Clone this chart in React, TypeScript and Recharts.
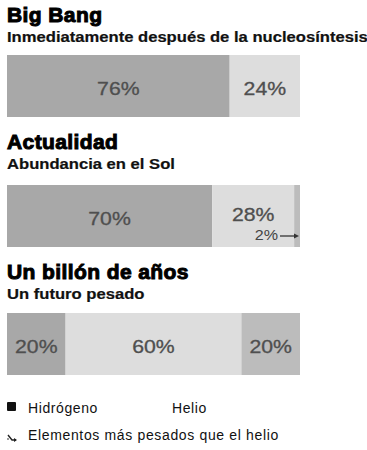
import React from "react";
import { BarChart, Bar, XAxis, YAxis, LabelList } from "recharts";

const stages = ["Big Bang", "Actualidad", "Un billón de años"];
const subtitles = [
  "Inmediatamente después de la nucleosíntesis",
  "Abundancia en el Sol",
  "Un futuro pesado",
];
const hydrogen = [76, 70, 20];
const helium = [24, 28, 60];
const heavier = [0, 2, 20];
const seriesNames = ["Hidrógeno", "Helio", "Elementos más pesados que el helio"];

const FONT = "'Liberation Sans', Arial, Helvetica, sans-serif";
const COLORS = { hydrogen: "#a8a8a8", helium: "#dddddd", heavier: "#bcbcbc" };

const titleTops = [0, 127, 257];
const barTops = [55, 185, 313];
const BAR_H = 62;

const makeLabel = (key: string, smallNeighbor: boolean) => (props: any) => {
  const { x, y, width, height, value } = props;
  if (!value) return null;
  const cy = y + height / 2;
  if (value < 5) {
    const right = x + width;
    return (
      <g>
        <text
          transform={`translate(${right - 22},${cy + 24}) scale(1.15,1)`}
          x={0}
          y={0}
          textAnchor="end"
          fontSize={14}
          fill="#444"
          fontFamily={FONT}
        >
          {value}%
        </text>
        <line x1={right - 20} y1={cy + 20} x2={right - 5} y2={cy + 20} stroke="#333" strokeWidth={1.3} />
        <path d={`M${right - 1},${cy + 20} l-5,-2.5 l0,5 z`} fill="#333" />
      </g>
    );
  }
  const dy = key === "helium" && smallNeighbor ? -1 : 3;
  return (
    <text
      transform={`translate(${x + width / 2},${cy + dy}) scale(1.18,1)`}
      x={0}
      y={0}
      textAnchor="middle"
      dominantBaseline="central"
      fontSize={18}
      fill="#4f4f4f"
      stroke="#4f4f4f"
      strokeWidth={0.3}
      fontFamily={FONT}
    >
      {value}%
    </text>
  );
};

export default function App() {
  return (
    <div
      style={{
        position: "absolute",
        left: 0,
        top: 0,
        width: 367,
        height: 450,
        background: "#fff",
        fontFamily: FONT,
        overflow: "hidden",
      }}
    >
      {stages.map((stage, i) => {
        const data = [
          { name: stage, hydrogen: hydrogen[i], helium: helium[i], heavier: heavier[i] },
        ];
        const smallNeighbor = heavier[i] > 0 && heavier[i] < 5;
        return (
          <React.Fragment key={stage}>
            <div
              style={{
                position: "absolute",
                left: 7,
                top: titleTops[i],
                fontSize: 21,
                fontWeight: 900,
                color: "#000",
                lineHeight: "30px",
                whiteSpace: "nowrap",
                letterSpacing: "0.4px",
                WebkitTextStroke: "1px #000",
              }}
            >
              {stage}
            </div>
            <div
              style={{
                position: "absolute",
                left: 7,
                top: titleTops[i] + 28,
                fontSize: 14.5,
                fontWeight: 700,
                color: "#111",
                lineHeight: "18px",
                whiteSpace: "nowrap",
                transform: "scaleX(1.145)",
                transformOrigin: "0 0",
                WebkitTextStroke: "0.2px #111",
              }}
            >
              {subtitles[i]}
            </div>
            <div style={{ position: "absolute", left: 0, top: barTops[i] }}>
              <BarChart
                width={367}
                height={BAR_H}
                data={data}
                layout="vertical"
                margin={{ top: 0, right: 67, bottom: 0, left: 7 }}
                barCategoryGap={0}
              >
                <XAxis type="number" domain={[0, 100]} hide />
                <YAxis type="category" dataKey="name" hide width={0} />
                <Bar dataKey="hydrogen" stackId="a" fill={COLORS.hydrogen} isAnimationActive={false}>
                  <LabelList dataKey="hydrogen" content={makeLabel("hydrogen", smallNeighbor)} />
                </Bar>
                <Bar dataKey="helium" stackId="a" fill={COLORS.helium} isAnimationActive={false}>
                  <LabelList dataKey="helium" content={makeLabel("helium", smallNeighbor)} />
                </Bar>
                <Bar dataKey="heavier" stackId="a" fill={COLORS.heavier} isAnimationActive={false}>
                  <LabelList dataKey="heavier" content={makeLabel("heavier", smallNeighbor)} />
                </Bar>
              </BarChart>
            </div>
          </React.Fragment>
        );
      })}
      <div style={{ position: "absolute", left: 7, top: 402, width: 9, height: 9, background: "#111", borderRadius: 1 }} />
      <div style={{ position: "absolute", left: 28, top: 400, fontSize: 14, color: "#111", lineHeight: "16px", letterSpacing: "0.6px" }}>
        {seriesNames[0]}
      </div>
      <div style={{ position: "absolute", left: 172, top: 400, fontSize: 14, color: "#111", lineHeight: "16px", letterSpacing: "0.6px" }}>
        {seriesNames[1]}
      </div>
      <svg style={{ position: "absolute", left: 6, top: 432 }} width={12} height={12}>
        <path d="M2,3 L6,8 L10,8" stroke="#222" strokeWidth={1.4} fill="none" />
        <path d="M11,8 l-3,-2 l0,4 z" fill="#222" />
        <circle cx={2} cy={7} r={0.8} fill="#222" />
      </svg>
      <div style={{ position: "absolute", left: 28, top: 427, fontSize: 14, color: "#111", lineHeight: "16px", letterSpacing: "0.65px" }}>
        {seriesNames[2]}
      </div>
    </div>
  );
}
